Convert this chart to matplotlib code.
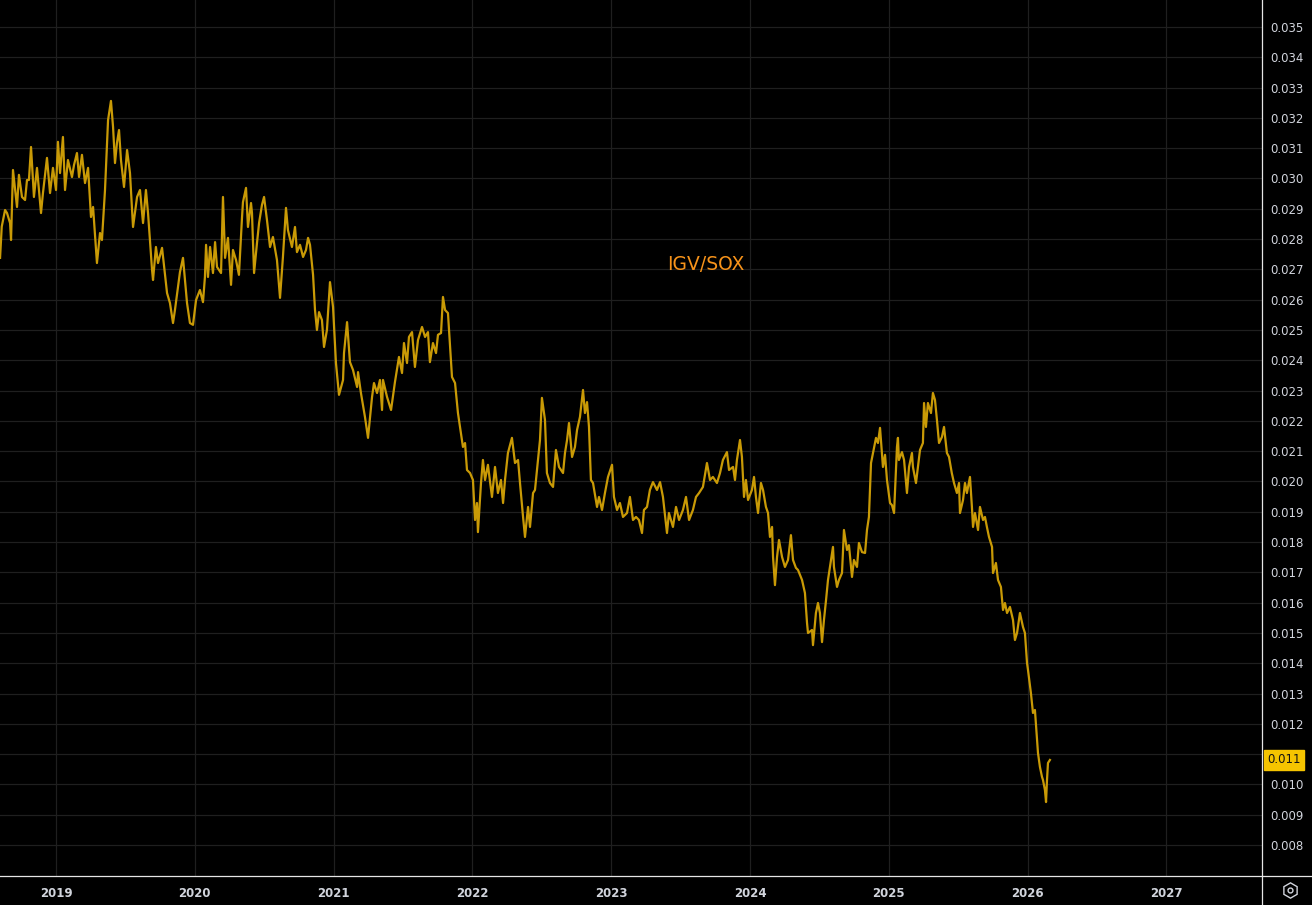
import numpy as np
import matplotlib
matplotlib.use("Agg")
import matplotlib.pyplot as plt
from matplotlib.lines import Line2D

# IGV/SOX ratio (decimal year, ratio)
years_2018 = [2018.597, 2018.609, 2018.633, 2018.647, 2018.669, 2018.676, 2018.690, 2018.719,
              2018.733, 2018.755, 2018.777, 2018.791, 2018.805, 2018.820, 2018.841, 2018.863,
              2018.892, 2018.906, 2018.935, 2018.957, 2018.978]
ratio_2018 = [0.02738, 0.02841, 0.02896, 0.02886, 0.02853, 0.02797, 0.03028, 0.02906,
              0.03012, 0.02939, 0.02929, 0.02995, 0.02995, 0.03104, 0.02939, 0.03035,
              0.02886, 0.02952, 0.03068, 0.02952, 0.03035]

years_2019 = [2019.000, 2019.014, 2019.029, 2019.050, 2019.065, 2019.086, 2019.115, 2019.130,
              2019.151, 2019.166, 2019.187, 2019.209, 2019.231, 2019.252, 2019.267, 2019.295,
              2019.317, 2019.331, 2019.353, 2019.375, 2019.396, 2019.411, 2019.425, 2019.439,
              2019.454, 2019.468, 2019.490, 2019.512, 2019.533, 2019.555, 2019.584, 2019.605,
              2019.627, 2019.648, 2019.663, 2019.692, 2019.699, 2019.720, 2019.735, 2019.764,
              2019.800, 2019.821, 2019.843, 2019.857, 2019.893, 2019.915, 2019.944, 2019.965,
              2019.987]
ratio_2019 = [0.02962, 0.03121, 0.03018, 0.03137, 0.02962, 0.03061, 0.03005, 0.03045,
              0.03084, 0.03005, 0.03078, 0.02985, 0.03035, 0.02873, 0.02906, 0.02721,
              0.02820, 0.02797, 0.02962, 0.03193, 0.03256, 0.03170, 0.03051, 0.03117,
              0.03160, 0.03061, 0.02972, 0.03094, 0.03018, 0.02840, 0.02939, 0.02962,
              0.02853, 0.02962, 0.02886, 0.02698, 0.02665, 0.02774, 0.02721, 0.02771,
              0.02622, 0.02589, 0.02523, 0.02566, 0.02691, 0.02738, 0.02589, 0.02523,
              0.02517]

years_2020 = [2020.009, 2020.037, 2020.059, 2020.073, 2020.081, 2020.095, 2020.110, 2020.131,
              2020.146, 2020.160, 2020.189, 2020.203, 2020.218, 2020.239, 2020.261, 2020.275,
              2020.297, 2020.318, 2020.340, 2020.347, 2020.369, 2020.383, 2020.405, 2020.412,
              2020.427, 2020.448, 2020.463, 2020.484, 2020.499, 2020.520, 2020.542, 2020.563,
              2020.592, 2020.614, 2020.635, 2020.657, 2020.671, 2020.700, 2020.722, 2020.736,
              2020.758, 2020.780, 2020.801, 2020.816, 2020.830, 2020.852, 2020.866, 2020.880,
              2020.895, 2020.916, 2020.931, 2020.952, 2020.974, 2020.996]
ratio_2020 = [0.02599, 0.02632, 0.02592, 0.02675, 0.02781, 0.02675, 0.02774, 0.02688,
              0.02790, 0.02708, 0.02688, 0.02939, 0.02738, 0.02804, 0.02649, 0.02764,
              0.02731, 0.02682, 0.02870, 0.02922, 0.02969, 0.02840, 0.02919, 0.02886,
              0.02688, 0.02787, 0.02853, 0.02913, 0.02939, 0.02863, 0.02774, 0.02807,
              0.02731, 0.02606, 0.02741, 0.02903, 0.02830, 0.02774, 0.02840, 0.02757,
              0.02781, 0.02741, 0.02764, 0.02804, 0.02781, 0.02682, 0.02566, 0.02500,
              0.02559, 0.02533, 0.02444, 0.02500, 0.02658, 0.02576]

years_2021 = [2021.017, 2021.039, 2021.068, 2021.075, 2021.097, 2021.118, 2021.140, 2021.169,
              2021.176, 2021.197, 2021.226, 2021.248, 2021.277, 2021.291, 2021.313, 2021.334,
              2021.349, 2021.356, 2021.385, 2021.414, 2021.442, 2021.471, 2021.493, 2021.507,
              2021.529, 2021.543, 2021.565, 2021.586, 2021.608, 2021.637, 2021.659, 2021.680,
              2021.694, 2021.716, 2021.738, 2021.752, 2021.774, 2021.788, 2021.803, 2021.824,
              2021.853, 2021.875, 2021.896, 2021.932, 2021.947, 2021.961, 2021.983]
ratio_2021 = [0.02391, 0.02286, 0.02335, 0.02424, 0.02526, 0.02394, 0.02368, 0.02312,
              0.02361, 0.02292, 0.02213, 0.02144, 0.02279, 0.02325, 0.02292, 0.02335,
              0.02236, 0.02335, 0.02279, 0.02236, 0.02328, 0.02411, 0.02358, 0.02457,
              0.02391, 0.02477, 0.02493, 0.02378, 0.02467, 0.02510, 0.02477, 0.02493,
              0.02394, 0.02457, 0.02424, 0.02484, 0.02490, 0.02609, 0.02566, 0.02556,
              0.02345, 0.02325, 0.02226, 0.02114, 0.02127, 0.02038, 0.02028]

years_2022 = [2022.004, 2022.019, 2022.033, 2022.040, 2022.062, 2022.076, 2022.091, 2022.112,
              2022.141, 2022.163, 2022.184, 2022.206, 2022.221, 2022.235, 2022.256, 2022.285,
              2022.307, 2022.329, 2022.343, 2022.365, 2022.379, 2022.401, 2022.415, 2022.437,
              2022.451, 2022.473, 2022.487, 2022.501, 2022.523, 2022.537, 2022.559, 2022.581,
              2022.602, 2022.624, 2022.653, 2022.667, 2022.682, 2022.696, 2022.718, 2022.739,
              2022.754, 2022.775, 2022.797, 2022.811, 2022.826, 2022.840, 2022.854, 2022.869,
              2022.898, 2022.912, 2022.934, 2022.955, 2022.977]
ratio_2022 = [0.02005, 0.01873, 0.01929, 0.01833, 0.01995, 0.02071, 0.02005, 0.02055,
              0.01949, 0.02048, 0.01962, 0.02005, 0.01929, 0.02005, 0.02094, 0.02144,
              0.02061, 0.02071, 0.01995, 0.01883, 0.01817, 0.01916, 0.01850, 0.01962,
              0.01972, 0.02071, 0.02137, 0.02276, 0.02203, 0.02028, 0.01995, 0.01982,
              0.02104, 0.02048, 0.02028, 0.02094, 0.02137, 0.02193, 0.02081, 0.02114,
              0.02170, 0.02213, 0.02302, 0.02226, 0.02262, 0.02180, 0.02005, 0.01995,
              0.01916, 0.01949, 0.01906, 0.01962, 0.02015]

years_2023 = [2023.006, 2023.020, 2023.042, 2023.063, 2023.085, 2023.114, 2023.135, 2023.157,
              2023.179, 2023.200, 2023.222, 2023.236, 2023.258, 2023.279, 2023.301, 2023.330,
              2023.352, 2023.373, 2023.402, 2023.416, 2023.445, 2023.467, 2023.489, 2023.517,
              2023.539, 2023.561, 2023.589, 2023.611, 2023.633, 2023.661, 2023.690, 2023.712,
              2023.733, 2023.762, 2023.784, 2023.805, 2023.834, 2023.849, 2023.878, 2023.892,
              2023.906, 2023.928, 2023.942, 2023.957, 2023.971, 2023.986]
ratio_2023 = [0.02055, 0.01949, 0.01906, 0.01929, 0.01883, 0.01896, 0.01949, 0.01873,
              0.01883, 0.01873, 0.01830, 0.01906, 0.01916, 0.01972, 0.01998, 0.01972,
              0.01998, 0.01949, 0.01830, 0.01896, 0.01850, 0.01916, 0.01873, 0.01906,
              0.01949, 0.01873, 0.01906, 0.01949, 0.01962, 0.01982, 0.02061, 0.02005,
              0.02015, 0.01995, 0.02028, 0.02071, 0.02097, 0.02038, 0.02048, 0.02005,
              0.02071, 0.02137, 0.02081, 0.01949, 0.02005, 0.01939]

years_2024 = [2024.014, 2024.029, 2024.043, 2024.058, 2024.079, 2024.094, 2024.115, 2024.130,
              2024.144, 2024.159, 2024.166, 2024.180, 2024.195, 2024.209, 2024.231, 2024.252,
              2024.274, 2024.295, 2024.310, 2024.331, 2024.346, 2024.375, 2024.396, 2024.411,
              2024.418, 2024.447, 2024.454, 2024.475, 2024.490, 2024.504, 2024.519, 2024.533,
              2024.548, 2024.562, 2024.584, 2024.598, 2024.605, 2024.627, 2024.641, 2024.663,
              2024.677, 2024.699, 2024.713, 2024.735, 2024.749, 2024.771, 2024.785, 2024.807,
              2024.829, 2024.843, 2024.857, 2024.872, 2024.886, 2024.908, 2024.922, 2024.937,
              2024.958, 2024.973, 2024.987]
ratio_2024 = [0.01972, 0.02015, 0.01949, 0.01896, 0.01995, 0.01972, 0.01916, 0.01896,
              0.01817, 0.01850, 0.01751, 0.01658, 0.01751, 0.01807, 0.01751, 0.01718,
              0.01741, 0.01823, 0.01741, 0.01715, 0.01708, 0.01675, 0.01632, 0.01533,
              0.01500, 0.01510, 0.01460, 0.01566, 0.01599, 0.01566, 0.01470, 0.01543,
              0.01609, 0.01675, 0.01741, 0.01784, 0.01718, 0.01652, 0.01675, 0.01698,
              0.01840, 0.01774, 0.01790, 0.01685, 0.01741, 0.01718, 0.01797, 0.01767,
              0.01764, 0.01840, 0.01883, 0.02061, 0.02094, 0.02144, 0.02127, 0.02177,
              0.02048, 0.02088, 0.02005]

years_2025 = [2025.009, 2025.023, 2025.038, 2025.059, 2025.066, 2025.073, 2025.095, 2025.110,
              2025.131, 2025.146, 2025.167, 2025.174, 2025.196, 2025.210, 2025.225, 2025.246,
              2025.254, 2025.268, 2025.282, 2025.304, 2025.318, 2025.333, 2025.347, 2025.362,
              2025.383, 2025.398, 2025.419, 2025.434, 2025.454, 2025.470, 2025.491, 2025.506,
              2025.513, 2025.535, 2025.549, 2025.563, 2025.585, 2025.599, 2025.607, 2025.621,
              2025.643, 2025.657, 2025.679, 2025.693, 2025.707, 2025.722, 2025.744, 2025.751,
              2025.772, 2025.787, 2025.808, 2025.823, 2025.837, 2025.852, 2025.873, 2025.895,
              2025.909, 2025.924, 2025.945, 2025.967, 2025.981, 2025.996]
ratio_2025 = [0.01929, 0.01922, 0.01896, 0.02114, 0.02144, 0.02071, 0.02097, 0.02071,
              0.01962, 0.02048, 0.02094, 0.02048, 0.01995, 0.02048, 0.02104, 0.02127,
              0.02259, 0.02180, 0.02259, 0.02226, 0.02292, 0.02269, 0.02203, 0.02127,
              0.02147, 0.02180, 0.02094, 0.02081, 0.02028, 0.01995, 0.01962, 0.01995,
              0.01896, 0.01939, 0.01995, 0.01962, 0.02015, 0.01916, 0.01850, 0.01896,
              0.01840, 0.01916, 0.01873, 0.01883, 0.01850, 0.01817, 0.01784, 0.01698,
              0.01731, 0.01675, 0.01652, 0.01576, 0.01599, 0.01566, 0.01586, 0.01543,
              0.01477, 0.01500, 0.01566, 0.01520, 0.01500, 0.01401]

years_2026 = [2026.003, 2026.024, 2026.039, 2026.053, 2026.068, 2026.075, 2026.089, 2026.104,
              2026.111, 2026.125, 2026.133, 2026.140, 2026.147, 2026.161]
ratio_2026 = [0.01378, 0.01302, 0.01236, 0.01246, 0.01147, 0.01104, 0.01058, 0.01025,
              0.01015, 0.00982, 0.00942, 0.01015, 0.01071, 0.01081]

year_ticks = [2019, 2020, 2021, 2022, 2023, 2024, 2025, 2026, 2027]
price_ticks = [0.008, 0.009, 0.010, 0.011, 0.012, 0.013, 0.014, 0.015, 0.016, 0.017, 0.018,
               0.019, 0.020, 0.021, 0.022, 0.023, 0.024, 0.025, 0.026, 0.027, 0.028, 0.029,
               0.030, 0.031, 0.032, 0.033, 0.034, 0.035]
top_tick = 0.036
series_name = "IGV/SOX"

t = np.array(years_2018 + years_2019 + years_2020 + years_2021 + years_2022 +
             years_2023 + years_2024 + years_2025 + years_2026)
ratio = np.array(ratio_2018 + ratio_2019 + ratio_2020 + ratio_2021 + ratio_2022 +
                 ratio_2023 + ratio_2024 + ratio_2025 + ratio_2026)

BG = "#000000"
GRID = "#1f1f1f"
TEXT = "#d1d4dc"
LINE = "#c99a06"

W, H = 1312, 905
fig = plt.figure(figsize=(W / 100, H / 100), dpi=100, facecolor=BG)
ax = fig.add_axes([0, 29 / H, 1262 / W, 876 / H], facecolor=BG)

ax.plot(t, ratio, color=LINE, lw=1.6, solid_joinstyle="round", zorder=3)

ax.set_xlim(2018.5965, 2027.689)
ax.set_ylim(0.00698, 0.035891)

ax.set_xticks(year_ticks)
ax.set_xticklabels([str(y) for y in year_ticks], fontsize=8.5, fontweight="bold", color=TEXT)
ax.set_yticks(price_ticks)
ax.yaxis.tick_right()
ax.set_yticklabels([f"{p:.3f}" for p in price_ticks], fontsize=8.5, color=TEXT)
ax.tick_params(axis="y", length=0, pad=6)
ax.tick_params(axis="x", length=0, pad=8)
ax.grid(True, color=GRID, lw=0.9)
ax.set_axisbelow(True)
for s in ax.spines.values():
    s.set_visible(False)

# the scale label above the view, mostly cut off by the top edge
ax.annotate(f"{top_tick:.3f}", xy=(1.0, top_tick), xycoords=ax.get_yaxis_transform(),
            xytext=(6, 0), textcoords="offset pixels", ha="left", va="center",
            fontsize=8.5, color=TEXT, annotation_clip=False)

ax.text(0.5594, 0.6986, series_name, transform=ax.transAxes, ha="center", va="center",
        fontsize=13.5, color="#f7931a")

# last-price badge
last = ratio[-1]
ax.annotate(f"{last:.3f}", xy=(1.0, last), xycoords=ax.get_yaxis_transform(),
            xytext=(4, 0), textcoords="offset points", ha="left", va="center",
            fontsize=8.5, color="#131313", annotation_clip=False, zorder=10,
            bbox=dict(boxstyle="square,pad=0.28", fc="#f5c400", ec="#f5c400"))

# separator lines of the price and time scales
fig.add_artist(Line2D([1262 / W, 1262 / W], [0, 1], color="#e6e6e6", lw=0.9))
fig.add_artist(Line2D([0, 1], [29 / H, 29 / H], color="#e6e6e6", lw=0.9))

# settings icon
fig.add_artist(Line2D([1290 / W], [15 / H], marker="h", ms=11, mfc="none", mec=TEXT, mew=1.0))
fig.add_artist(Line2D([1290 / W], [15 / H], marker="o", ms=3.5, mfc="none", mec=TEXT, mew=1.0))

fig.savefig("out.png", dpi=100, facecolor=BG)
